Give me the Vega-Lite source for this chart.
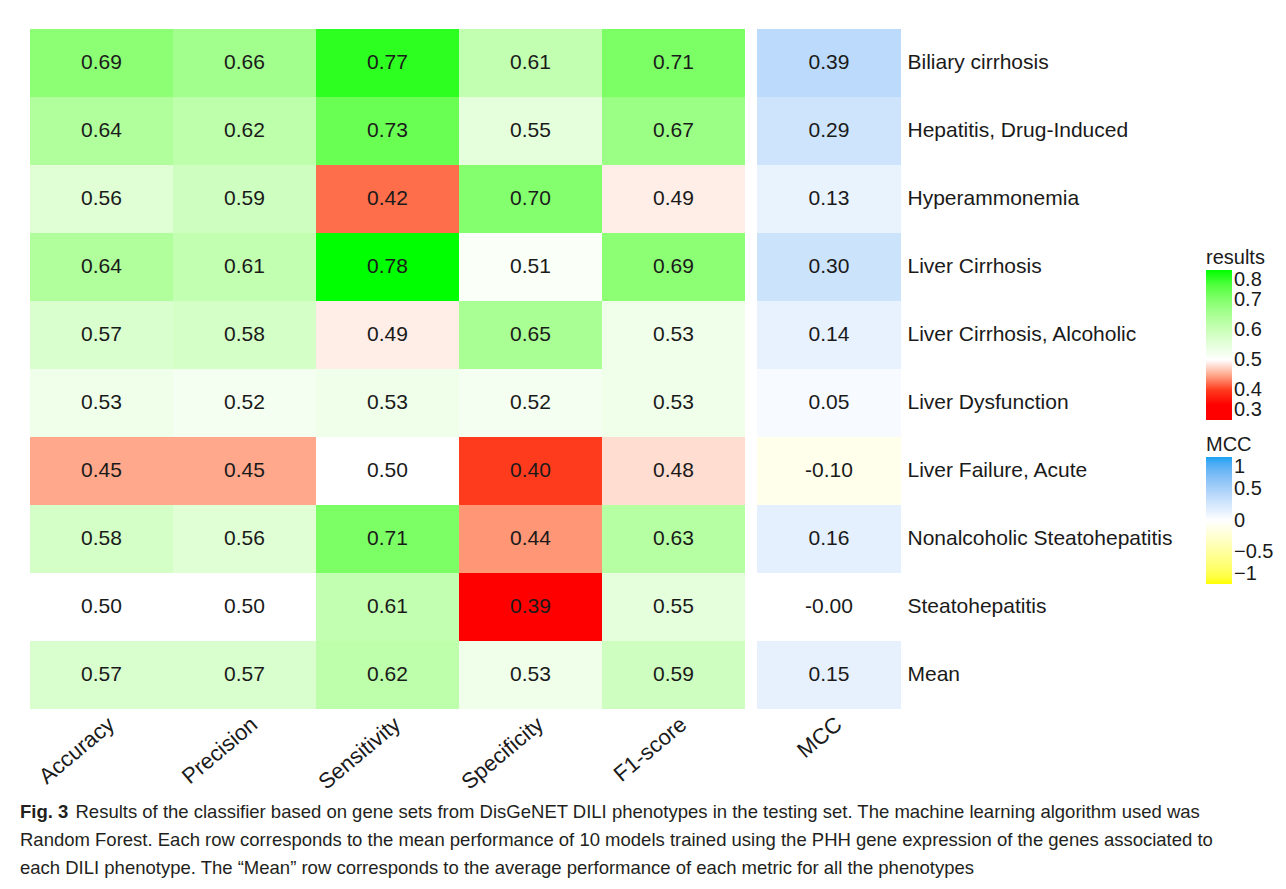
{
  "$schema": "https://vega.github.io/schema/vega-lite/v6.json",
  "padding": {"left": 20, "top": 29, "right": 5, "bottom": 5},
  "background": "white",
  "datasets": {
    "cells": [
      {"row": "Biliary cirrhosis", "metric": "Accuracy", "value": 0.69, "label": "0.69"},
      {"row": "Biliary cirrhosis", "metric": "Precision", "value": 0.66, "label": "0.66"},
      {"row": "Biliary cirrhosis", "metric": "Sensitivity", "value": 0.77, "label": "0.77"},
      {"row": "Biliary cirrhosis", "metric": "Specificity", "value": 0.61, "label": "0.61"},
      {"row": "Biliary cirrhosis", "metric": "F1-score", "value": 0.71, "label": "0.71"},
      {"row": "Biliary cirrhosis", "metric": "MCC", "value": 0.39, "label": "0.39"},
      {"row": "Hepatitis, Drug-Induced", "metric": "Accuracy", "value": 0.64, "label": "0.64"},
      {"row": "Hepatitis, Drug-Induced", "metric": "Precision", "value": 0.62, "label": "0.62"},
      {"row": "Hepatitis, Drug-Induced", "metric": "Sensitivity", "value": 0.73, "label": "0.73"},
      {"row": "Hepatitis, Drug-Induced", "metric": "Specificity", "value": 0.55, "label": "0.55"},
      {"row": "Hepatitis, Drug-Induced", "metric": "F1-score", "value": 0.67, "label": "0.67"},
      {"row": "Hepatitis, Drug-Induced", "metric": "MCC", "value": 0.29, "label": "0.29"},
      {"row": "Hyperammonemia", "metric": "Accuracy", "value": 0.56, "label": "0.56"},
      {"row": "Hyperammonemia", "metric": "Precision", "value": 0.59, "label": "0.59"},
      {"row": "Hyperammonemia", "metric": "Sensitivity", "value": 0.42, "label": "0.42"},
      {"row": "Hyperammonemia", "metric": "Specificity", "value": 0.70, "label": "0.70"},
      {"row": "Hyperammonemia", "metric": "F1-score", "value": 0.49, "label": "0.49"},
      {"row": "Hyperammonemia", "metric": "MCC", "value": 0.13, "label": "0.13"},
      {"row": "Liver Cirrhosis", "metric": "Accuracy", "value": 0.64, "label": "0.64"},
      {"row": "Liver Cirrhosis", "metric": "Precision", "value": 0.61, "label": "0.61"},
      {"row": "Liver Cirrhosis", "metric": "Sensitivity", "value": 0.78, "label": "0.78"},
      {"row": "Liver Cirrhosis", "metric": "Specificity", "value": 0.51, "label": "0.51"},
      {"row": "Liver Cirrhosis", "metric": "F1-score", "value": 0.69, "label": "0.69"},
      {"row": "Liver Cirrhosis", "metric": "MCC", "value": 0.30, "label": "0.30"},
      {"row": "Liver Cirrhosis, Alcoholic", "metric": "Accuracy", "value": 0.57, "label": "0.57"},
      {"row": "Liver Cirrhosis, Alcoholic", "metric": "Precision", "value": 0.58, "label": "0.58"},
      {"row": "Liver Cirrhosis, Alcoholic", "metric": "Sensitivity", "value": 0.49, "label": "0.49"},
      {"row": "Liver Cirrhosis, Alcoholic", "metric": "Specificity", "value": 0.65, "label": "0.65"},
      {"row": "Liver Cirrhosis, Alcoholic", "metric": "F1-score", "value": 0.53, "label": "0.53"},
      {"row": "Liver Cirrhosis, Alcoholic", "metric": "MCC", "value": 0.14, "label": "0.14"},
      {"row": "Liver Dysfunction", "metric": "Accuracy", "value": 0.53, "label": "0.53"},
      {"row": "Liver Dysfunction", "metric": "Precision", "value": 0.52, "label": "0.52"},
      {"row": "Liver Dysfunction", "metric": "Sensitivity", "value": 0.53, "label": "0.53"},
      {"row": "Liver Dysfunction", "metric": "Specificity", "value": 0.52, "label": "0.52"},
      {"row": "Liver Dysfunction", "metric": "F1-score", "value": 0.53, "label": "0.53"},
      {"row": "Liver Dysfunction", "metric": "MCC", "value": 0.05, "label": "0.05"},
      {"row": "Liver Failure, Acute", "metric": "Accuracy", "value": 0.45, "label": "0.45"},
      {"row": "Liver Failure, Acute", "metric": "Precision", "value": 0.45, "label": "0.45"},
      {"row": "Liver Failure, Acute", "metric": "Sensitivity", "value": 0.50, "label": "0.50"},
      {"row": "Liver Failure, Acute", "metric": "Specificity", "value": 0.40, "label": "0.40"},
      {"row": "Liver Failure, Acute", "metric": "F1-score", "value": 0.48, "label": "0.48"},
      {"row": "Liver Failure, Acute", "metric": "MCC", "value": -0.10, "label": "-0.10"},
      {"row": "Nonalcoholic Steatohepatitis", "metric": "Accuracy", "value": 0.58, "label": "0.58"},
      {"row": "Nonalcoholic Steatohepatitis", "metric": "Precision", "value": 0.56, "label": "0.56"},
      {"row": "Nonalcoholic Steatohepatitis", "metric": "Sensitivity", "value": 0.71, "label": "0.71"},
      {"row": "Nonalcoholic Steatohepatitis", "metric": "Specificity", "value": 0.44, "label": "0.44"},
      {"row": "Nonalcoholic Steatohepatitis", "metric": "F1-score", "value": 0.63, "label": "0.63"},
      {"row": "Nonalcoholic Steatohepatitis", "metric": "MCC", "value": 0.16, "label": "0.16"},
      {"row": "Steatohepatitis", "metric": "Accuracy", "value": 0.50, "label": "0.50"},
      {"row": "Steatohepatitis", "metric": "Precision", "value": 0.50, "label": "0.50"},
      {"row": "Steatohepatitis", "metric": "Sensitivity", "value": 0.61, "label": "0.61"},
      {"row": "Steatohepatitis", "metric": "Specificity", "value": 0.39, "label": "0.39"},
      {"row": "Steatohepatitis", "metric": "F1-score", "value": 0.55, "label": "0.55"},
      {"row": "Steatohepatitis", "metric": "MCC", "value": -0.00, "label": "-0.00"},
      {"row": "Mean", "metric": "Accuracy", "value": 0.57, "label": "0.57"},
      {"row": "Mean", "metric": "Precision", "value": 0.57, "label": "0.57"},
      {"row": "Mean", "metric": "Sensitivity", "value": 0.62, "label": "0.62"},
      {"row": "Mean", "metric": "Specificity", "value": 0.53, "label": "0.53"},
      {"row": "Mean", "metric": "F1-score", "value": 0.59, "label": "0.59"},
      {"row": "Mean", "metric": "MCC", "value": 0.15, "label": "0.15"}
    ]
  },
  "title": {
    "text": "Fig. 3",
    "subtitle": [
      "\u200b\u2003\u2003\u2003Results of the classifier based on gene sets from DisGeNET DILI phenotypes in the testing set. The machine learning algorithm used was",
      "Random Forest. Each row corresponds to the mean performance of 10 models trained using the PHH gene expression of the genes associated to",
      "each DILI phenotype. The \u201cMean\u201d row corresponds to the average performance of each metric for all the phenotypes"
    ],
    "orient": "bottom",
    "anchor": "start",
    "dx": -10,
    "offset": 10,
    "font": "Liberation Sans",
    "fontSize": 18.5,
    "fontWeight": "bold",
    "color": "#231f20",
    "subtitleFont": "Liberation Sans",
    "subtitleFontSize": 18.5,
    "subtitleFontWeight": "normal",
    "subtitleColor": "#231f20",
    "subtitleLineHeight": 28,
    "subtitlePadding": -18.5
  },
  "spacing": 12,
  "hconcat": [
    {
      "width": 715,
      "height": 680,
      "data": {"name": "cells"},
      "transform": [{"filter": "datum.metric !== 'MCC'"}],
      "encoding": {
        "x": {
          "field": "metric", "type": "nominal",
          "scale": {"domain": ["Accuracy", "Precision", "Sensitivity", "Specificity", "F1-score"], "paddingInner": 0, "paddingOuter": 0},
          "axis": {"title": null, "domain": false, "ticks": false, "labelAngle": -40, "labelAlign": "right", "labelBaseline": "middle", "labelFontSize": 22, "labelFont": "Liberation Sans", "labelColor": "#1a1a1a", "labelPadding": 12, "labelOffset": 10}
        },
        "y": {
          "field": "row", "type": "nominal",
          "scale": {"domain": ["Biliary cirrhosis", "Hepatitis, Drug-Induced", "Hyperammonemia", "Liver Cirrhosis", "Liver Cirrhosis, Alcoholic", "Liver Dysfunction", "Liver Failure, Acute", "Nonalcoholic Steatohepatitis", "Steatohepatitis", "Mean"], "paddingInner": 0, "paddingOuter": 0},
          "axis": null
        }
      },
      "layer": [
        {
          "mark": {"type": "rect"},
          "encoding": {
            "fill": {
              "field": "value", "type": "quantitative",
              "scale": {"domain": [0.3, 0.39, 0.5, 0.78, 0.8], "range": ["#ff0000", "#ff0000", "#ffffff", "#00ff00", "#00ff00"], "interpolate": "lab"},
              "legend": {"title": "results", "orient": "none", "legendX": 1176, "legendY": 219, "values": [0.3, 0.4, 0.5, 0.6, 0.7, 0.8], "format": ".1f", "gradientLength": 150, "direction": "vertical"}
            }
          }
        },
        {
          "mark": {"type": "text", "font": "Liberation Sans", "fontSize": 21, "color": "#1a1a1a"},
          "encoding": {"text": {"field": "label", "type": "nominal"}}
        }
      ]
    },
    {
      "width": 144,
      "height": 680,
      "data": {"name": "cells"},
      "transform": [{"filter": "datum.metric === 'MCC'"}],
      "encoding": {
        "x": {
          "field": "metric", "type": "nominal",
          "scale": {"paddingInner": 0, "paddingOuter": 0},
          "axis": {"title": null, "domain": false, "ticks": false, "labelAngle": -40, "labelAlign": "right", "labelBaseline": "middle", "labelFontSize": 22, "labelFont": "Liberation Sans", "labelColor": "#1a1a1a", "labelPadding": 12, "labelOffset": 10}
        },
        "y": {
          "field": "row", "type": "nominal",
          "scale": {"domain": ["Biliary cirrhosis", "Hepatitis, Drug-Induced", "Hyperammonemia", "Liver Cirrhosis", "Liver Cirrhosis, Alcoholic", "Liver Dysfunction", "Liver Failure, Acute", "Nonalcoholic Steatohepatitis", "Steatohepatitis", "Mean"], "paddingInner": 0, "paddingOuter": 0},
          "axis": {"orient": "right", "title": null, "domain": false, "ticks": false, "labelFontSize": 21, "labelFont": "Liberation Sans", "labelColor": "#1a1a1a", "labelPadding": 6, "labelLimit": 0}
        }
      },
      "layer": [
        {
          "mark": {"type": "rect"},
          "encoding": {
            "color": {
              "field": "value", "type": "quantitative",
              "scale": {"domain": [-1, 0, 1], "range": ["#ffff00", "#ffffff", "#1aa3f2"], "interpolate": "lab"},
              "legend": {"title": "MCC", "orient": "none", "legendX": 1176, "legendY": 406, "values": [-1, -0.5, 0, 0.5, 1], "format": ".1~f", "gradientLength": 127, "direction": "vertical"}
            }
          }
        },
        {
          "mark": {"type": "text", "font": "Liberation Sans", "fontSize": 21, "color": "#1a1a1a"},
          "encoding": {"text": {"field": "label", "type": "nominal"}}
        }
      ]
    }
  ],
  "config": {
    "view": {"stroke": null},
    "legend": {
      "titleFont": "Liberation Sans",
      "titleFontSize": 20,
      "titleFontWeight": "normal",
      "titleColor": "#1a1a1a",
      "titlePadding": 2,
      "labelFont": "Liberation Sans",
      "labelFontSize": 20,
      "labelColor": "#1a1a1a",
      "labelOffset": 2,
      "gradientThickness": 26,
      "gradientStrokeWidth": 0
    }
  }
}
